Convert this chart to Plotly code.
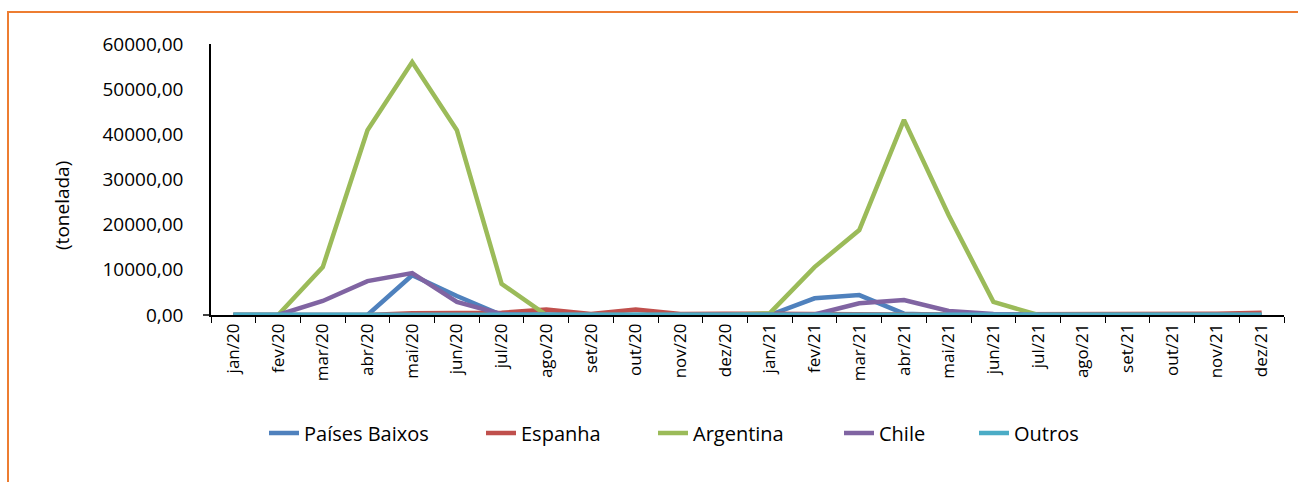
import plotly.graph_objects as go

months = ["jan/20", "fev/20", "mar/20", "abr/20", "mai/20", "jun/20", "jul/20", "ago/20",
          "set/20", "out/20", "nov/20", "dez/20", "jan/21", "fev/21", "mar/21", "abr/21",
          "mai/21", "jun/21", "jul/21", "ago/21", "set/21", "out/21", "nov/21", "dez/21"]

paises_baixos = [0, 0, 0, 0, 8800, 4200, 0, 0, 0, 0, 0, 0,
                 0, 3700, 4400, 300, 0, 0, 0, 0, 0, 0, 0, 0]
espanha = [0, 0, 0, 0, 400, 400, 500, 1200, 200, 1200, 200, 300,
           200, 100, 100, 100, 100, 100, 100, 200, 300, 300, 300, 500]
argentina = [0, 0, 10600, 40900, 56000, 40900, 6900, 0, 0, 0, 0, 0,
             400, 10600, 18800, 43200, 22100, 2900, 0, 0, 0, 0, 0, 0]
chile = [0, 0, 3100, 7500, 9300, 2900, 200, 0, 0, 0, 0, 0,
         0, 100, 2600, 3300, 900, 200, 0, 0, 0, 0, 0, 0]
outros = [50] * 24

series = [
    ("Países Baixos", paises_baixos, "#4F81BD"),
    ("Espanha", espanha, "#C0504D"),
    ("Argentina", argentina, "#9BBB59"),
    ("Chile", chile, "#8064A2"),
    ("Outros", outros, "#4BACC6"),
]
legend_text_px = [305, 522, 694, 880, 1015]

FONT = "Open Sans"

L, T, W, H = 211, 44, 1073, 271
PW, PH = 1298, 482

def px_x(px):
    return (px - L) / W

def px_y(py):
    return (T + H - py) / H

fig = go.Figure()
legend_layouts = {}
for i, (name, vals, color) in enumerate(series):
    lname = "legend" if i == 0 else f"legend{i + 1}"
    fig.add_trace(go.Scatter(x=months, y=vals, name=name, mode="lines", legend=lname,
                             line=dict(color=color, width=4.5)))
    legend_layouts[lname] = dict(orientation="h", x=px_x(legend_text_px[i] - 41), xanchor="left",
                                 y=px_y(433), yanchor="middle",
                                 font=dict(size=20, family=FONT), itemwidth=30,
                                 bgcolor="rgba(0,0,0,0)")

fig.update_layout(
    width=PW, height=PH,
    margin=dict(l=L, r=PW - L - W, t=T, b=PH - T - H, pad=0),
    paper_bgcolor="white", plot_bgcolor="white",
    separators=",.",
    font=dict(family=FONT, color="#000000"),
    showlegend=True,
    xaxis=dict(type="category", range=[-0.5, 23.5], showgrid=False,
               showline=True, linecolor="#000000", linewidth=1.5,
               ticks="outside", tickson="boundaries", ticklen=6, tickcolor="#000000",
               tickangle=-90, tickfont=dict(size=17, family=FONT)),
    yaxis=dict(range=[0, 60000], tickvals=[0, 10000, 20000, 30000, 40000, 50000, 60000],
               tickformat=".2f", showgrid=False, zeroline=False,
               showline=True, linecolor="#000000", linewidth=1.5,
               ticks="", ticklabelstandoff=22, tickfont=dict(size=19, family=FONT)),
    **legend_layouts,
)

fig.add_annotation(text="(tonelada)", textangle=-90, xref="paper", yref="paper",
                   x=px_x(62), y=px_y(205), xanchor="center", yanchor="middle",
                   showarrow=False, font=dict(size=19, family=FONT))

# y-axis tick at zero
fig.add_shape(type="line", xref="paper", yref="paper",
              x0=px_x(203), x1=px_x(211), y0=0, y1=0,
              line=dict(color="#000000", width=1.5))

# orange chart border
fig.add_shape(type="rect", xref="paper", yref="paper",
              x0=px_x(8), x1=px_x(1310), y0=px_y(495), y1=px_y(12),
              line=dict(color="#ED7D31", width=2), fillcolor="rgba(0,0,0,0)", layer="below")

fig.write_html("out.html")
